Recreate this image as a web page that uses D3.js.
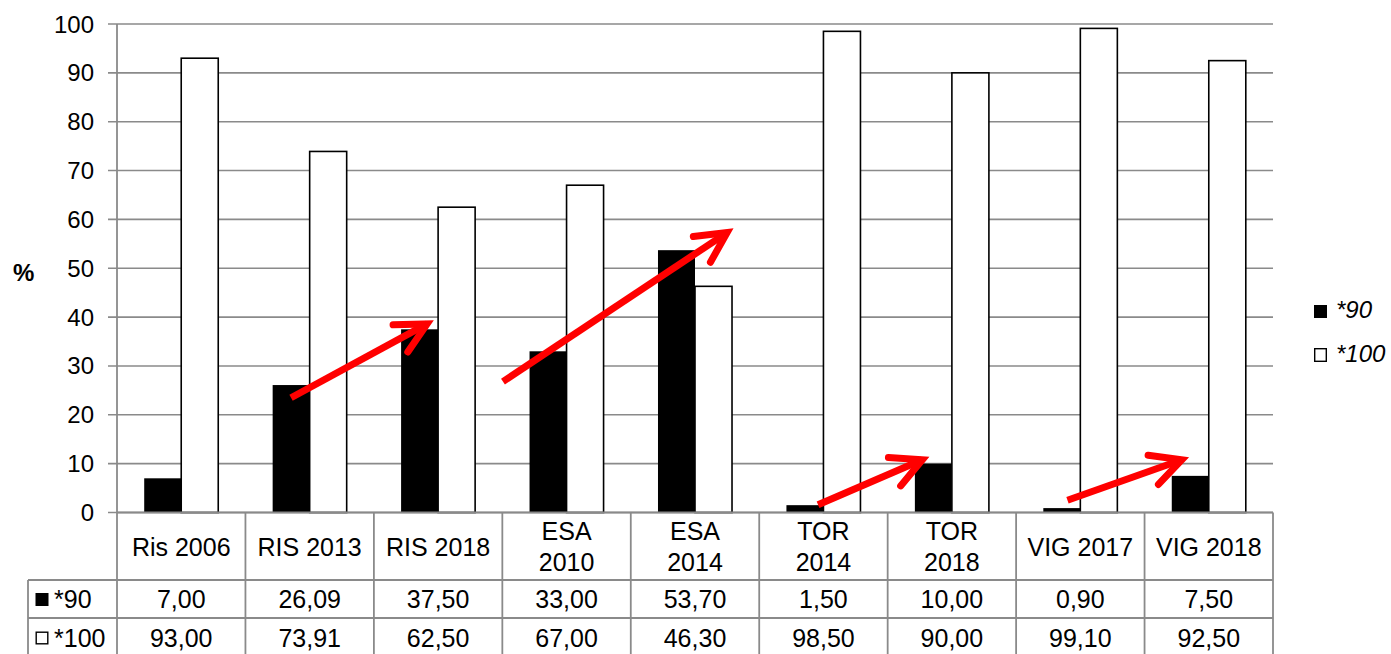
<!DOCTYPE html>
<html><head><meta charset="utf-8">
<script src="https://cdn.jsdelivr.net/npm/d3@7"></script>
<style>
html,body{margin:0;padding:0;background:#fff;}
svg{display:block;font-family:"Liberation Sans",Arial,sans-serif;}
</style></head>
<body><svg id="c" width="1391" height="654"></svg>
<script>
const categories = ["Ris 2006","RIS 2013","RIS 2018","ESA 2010","ESA 2014","TOR 2014","TOR 2018","VIG 2017","VIG 2018"];
const wrappedCategories = ["ESA 2010","ESA 2014","TOR 2014","TOR 2018"];
const seriesNames = ["*90","*100"];
const series90 = [7.00,26.09,37.50,33.00,53.70,1.50,10.00,0.90,7.50];
const series100 = [93.00,73.91,62.50,67.00,46.30,98.50,90.00,99.10,92.50];
const yTicks = [0,10,20,30,40,50,60,70,80,90,100];
const yLabel = "%";
// arrows in data space: [category index position, value]
const arrows = [
  {from:[1.355,23.5], to:[2.414,38.6]},
  {from:[3.005,26.8], to:[4.75,57.3]},
  {from:[5.458,1.6], to:[6.27,10.8]},
  {from:[7.40,2.5], to:[8.29,10.8]}
];

const svg = d3.select("#c");
const L = 117, R = 1273, T = 24, B = 512.5;
const grid = "#8a8a8a";

const x0 = d3.scaleBand().domain(categories).range([L,R]).padding(0);
const x1 = d3.scaleBand().domain(seriesNames).range([0,x0.bandwidth()]).paddingInner(0).paddingOuter(0.735);
const y = d3.scaleLinear().domain([0,100]).range([B,T]);
const xPos = v => L + v * x0.step();

// gridlines
svg.append("g").selectAll("line").data(yTicks).join("line")
  .attr("x1",108).attr("x2",R).attr("y1",d=>y(d)).attr("y2",d=>y(d))
  .attr("stroke",grid).attr("stroke-width",1.6);
// left axis line
svg.append("line").attr("x1",L).attr("x2",L).attr("y1",T).attr("y2",654)
  .attr("stroke",grid).attr("stroke-width",1.8);
// y labels
svg.append("g").selectAll("text").data(yTicks).join("text")
  .attr("x",94).attr("y",d=>y(d)+8.5).attr("text-anchor","end")
  .attr("font-size",24).attr("fill","#000").text(d=>d);
svg.append("text").attr("x",13).attr("y",281).attr("font-size",24).attr("font-weight","bold").text(yLabel);

// bars
const gcat = svg.append("g").selectAll("g").data(categories).join("g")
  .attr("transform",d=>`translate(${x0(d)},0)`);
gcat.append("rect").attr("x",x1("*90")).attr("width",x1.bandwidth())
  .attr("y",(d,i)=>y(series90[i])).attr("height",(d,i)=>y(0)-y(series90[i]))
  .attr("fill","#000");
gcat.append("rect").attr("x",x1("*100")).attr("width",x1.bandwidth())
  .attr("y",(d,i)=>y(series100[i])).attr("height",(d,i)=>y(0)-y(series100[i]))
  .attr("fill","#fff").attr("stroke","#000").attr("stroke-width",1.6);

// table
const row1 = 580, row2 = 618, row3 = 655;
const tbl = svg.append("g");
tbl.append("line").attr("x1",L).attr("x2",R).attr("y1",B).attr("y2",B).attr("stroke",grid).attr("stroke-width",1.8);
[row1,row2].forEach(r=>tbl.append("line").attr("x1",28).attr("x2",R).attr("y1",r).attr("y2",r).attr("stroke",grid).attr("stroke-width",1.8));
tbl.append("line").attr("x1",28).attr("x2",28).attr("y1",row1).attr("y2",row3).attr("stroke",grid).attr("stroke-width",1.8);
const bounds = categories.map(c=>x0(c)+x0.bandwidth());
tbl.selectAll(".vl").data(bounds).join("line").attr("class","vl")
  .attr("x1",d=>d).attr("x2",d=>d).attr("y1",B).attr("y2",row3)
  .attr("stroke",grid).attr("stroke-width",1.8);
categories.forEach(c=>{
  const cx = x0(c)+x0.bandwidth()/2;
  if (wrappedCategories.includes(c)) {
    const parts = c.split(" ");
    tbl.append("text").attr("x",cx).attr("y",540).attr("text-anchor","middle").attr("font-size",25).text(parts[0]);
    tbl.append("text").attr("x",cx).attr("y",571).attr("text-anchor","middle").attr("font-size",25).text(parts[1]);
  } else {
    tbl.append("text").attr("x",cx).attr("y",555.5).attr("text-anchor","middle").attr("font-size",25).text(c);
  }
});
const fmt = v => v.toFixed(2).replace(".",",");
[[series90,608],[series100,646.5]].forEach(([vals,by])=>{
  tbl.append("g").selectAll("text").data(categories).join("text")
    .attr("x",d=>x0(d)+x0.bandwidth()/2).attr("y",by).attr("text-anchor","middle")
    .attr("font-size",25).text((d,i)=>fmt(vals[i]));
});
// row headers
tbl.append("rect").attr("x",35.5).attr("y",593).attr("width",13).attr("height",13).attr("fill","#000");
tbl.append("text").attr("x",54).attr("y",608).attr("font-size",25).text(seriesNames[0]);
tbl.append("rect").attr("x",36.2).attr("y",632.2).attr("width",11.6).attr("height",11.6).attr("fill","#fff").attr("stroke","#000").attr("stroke-width",1.4);
tbl.append("text").attr("x",54).attr("y",646.5).attr("font-size",25).text(seriesNames[1]);

// legend
const lg = svg.append("g");
lg.append("rect").attr("x",1314).attr("y",305).attr("width",13).attr("height",13).attr("fill","#000");
lg.append("text").attr("x",1336).attr("y",318).attr("font-size",24).attr("font-style","italic").text(seriesNames[0]);
lg.append("rect").attr("x",1314.7).attr("y",348.7).attr("width",11.6).attr("height",12.6).attr("fill","#fff").attr("stroke","#000").attr("stroke-width",1.4);
lg.append("text").attr("x",1336).attr("y",362).attr("font-size",24).attr("font-style","italic").text(seriesNames[1]);

// arrows
const ag = svg.append("g").attr("stroke","#ff0000").attr("stroke-width",7).attr("stroke-linecap","round").attr("fill","none");
arrows.forEach(a=>{
  const x1p = xPos(a.from[0]), y1p = y(a.from[1]);
  const x2p = xPos(a.to[0]), y2p = y(a.to[1]);
  ag.append("line").attr("x1",x1p).attr("y1",y1p).attr("x2",x2p).attr("y2",y2p).attr("stroke-linecap","butt");
  const ang = Math.atan2(y1p-y2p, x1p-x2p);
  const hl = 34, da = 27*Math.PI/180;
  const p1 = [x2p+hl*Math.cos(ang+da), y2p+hl*Math.sin(ang+da)];
  const p2 = [x2p+hl*Math.cos(ang-da), y2p+hl*Math.sin(ang-da)];
  ag.append("path").attr("d",`M${p1[0]},${p1[1]}L${x2p},${y2p}L${p2[0]},${p2[1]}`).attr("stroke-linejoin","miter");
});
</script></body></html>
